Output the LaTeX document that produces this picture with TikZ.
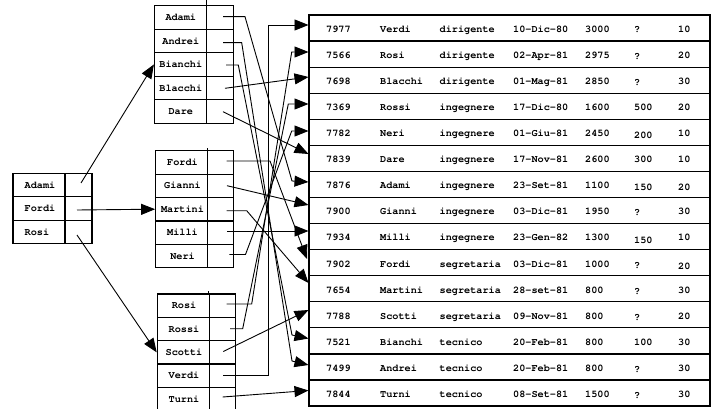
\documentclass[tikz,border=0pt]{standalone}
\usepackage{fontspec}
\setmainfont{TeX Gyre Cursor}
\usetikzlibrary{arrows.meta}
\newcommand\tabfnt{\fontsize{10.2pt}{12pt}\selectfont\bfseries}
\begin{document}
\begin{tikzpicture}[x=1pt,y=-1pt,
  tab/.style={draw, line width=1.2pt, inner sep=0pt},
  lbl/.style={inner sep=0pt, text height=6.2pt, text depth=0pt, font=\tabfnt},
  link/.style={line width=0.9pt, -{Triangle[length=14pt,width=11pt]}},
  ]
\useasboundingbox (0,0) rectangle (712,409);

% ---------- big table ----------
\foreach \i in {1,...,15}
  \node[tab, minimum width=401pt, minimum height=26.07pt] (R\i) at (509.5,{15+(\i-0.5)*26.07}) {};

\foreach \i/\a/\b/\c/\d/\e/\f/\g/\df/\dg in {
1/7977/Verdi/dirigente/10-Dic-80/3000/?/10/0.5/0,
2/7566/Rosi/dirigente/02-Apr-81/2975/?/20/0.5/0,
3/7698/Blacchi/dirigente/01-Mag-81/2850/?/30/0.5/0,
4/7369/Rossi/ingegnere/17-Dic-80/1600/500/20/0/0,
5/7782/Neri/ingegnere/01-Giu-81/2450/200/10/1.5/0,
6/7839/Dare/ingegnere/17-Nov-81/2600/300/10/0/0,
7/7876/Adami/ingegnere/23-Set-81/1100/150/20/1.5/2,
8/7900/Gianni/ingegnere/03-Dic-81/1950/?/30/1/0,
9/7934/Milli/ingegnere/23-Gen-82/1300/150/10/3/0,
10/7902/Fordi/segretaria/03-Dic-81/1000/?/20/1.5/2,
11/7654/Martini/segretaria/28-set-81/800/?/30/1.5/0,
12/7788/Scotti/segretaria/09-Nov-81/800/?/20/1.5/0,
13/7521/Bianchi/tecnico/20-Feb-81/800/100/30/0/0,
14/7499/Andrei/tecnico/20-Feb-81/800/?/30/1.5/0,
15/7844/Turni/tecnico/08-Set-81/1500/?/30/1.5/0}
{
  \pgfmathsetmacro\yc{15+(\i-0.5)*26.07+1.3}
  \node[lbl, anchor=west] (R\i-1) at (326,\yc) {\a};
  \node[lbl, anchor=west] (R\i-2) at (380,\yc) {\b};
  \node[lbl, anchor=west] (R\i-3) at (439.5,\yc) {\c};
  \node[lbl, anchor=west] (R\i-4) at (513,\yc) {\d};
  \node[lbl, anchor=west] (R\i-5) at (585,\yc) {\e};
  \node[lbl, anchor=west] (R\i-6) at (634,{\yc+\df}) {\f};
  \node[lbl, anchor=west] (R\i-7) at (678,{\yc+\dg}) {\g};
}

% ---------- table A ----------
\foreach \n [count=\i] in {Adami,Fordi,Rosi} {
  \pgfmathsetmacro\yc{173.3+(\i-0.5)*23.5}
  \node[tab, minimum width=52pt, minimum height=23.5pt] (A\i) at (39,\yc) {};
  \node[tab, minimum width=27pt, minimum height=23.5pt] (A\i p) at (78.5,\yc) {};
  \node[lbl, anchor=west] (A\i t) at (24.5,\yc) {\n};
}

% ---------- table B ----------
\foreach \n [count=\i] in {Adami,Andrei,Bianchi,Blacchi,Dare} {
  \pgfmathsetmacro\yc{5.7+(\i-0.5)*23.5}
  \node[tab, minimum width=52.2pt, minimum height=23.5pt] (B\i) at (180.6,\yc) {};
  \node[tab, minimum width=26.6pt, minimum height=23.5pt] (B\i p) at (220,\yc) {};
  \node[lbl] (B\i t) at (180.8,\yc) {\n};
}
\draw[line width=1.2pt] (B1p.north west) -- ++(0,-6);

% ---------- table C ----------
\foreach \n [count=\i] in {Fordi,Gianni,Martini,Milli,Neri} {
  \pgfmathsetmacro\yc{150.7+(\i-0.5)*23.4}
  \node[tab, minimum width=52pt, minimum height=23.4pt] (C\i) at (181.7,\yc) {};
  \node[tab, minimum width=25.6pt, minimum height=23.4pt] (C\i p) at (220.5,\yc) {};
  \node[lbl] (C\i t) at (182.5,\yc) {\n};
}
\draw[line width=1.2pt] (C1p.north west) -- ++(0,-2.5);

% ---------- table D ----------
\foreach \n [count=\i] in {Rosi,Rossi,Scotti,Verdi,Turni} {
  \pgfmathsetmacro\yc{294+(\i-0.5)*23.35}
  \node[tab, minimum width=52pt, minimum height=23.35pt] (D\i) at (183.3,\yc) {};
  \node[tab, minimum width=26pt, minimum height=23.35pt] (D\i p) at (222.3,\yc) {};
  \node[lbl] (D\i t) at (184,\yc) {\n};
}
\draw[line width=1.2pt] (D1p.north west) -- ++(0,-2.5);

% ---------- pointer starts ----------
\coordinate (sA1) at (81,183);
\coordinate (sA2) at (77,210);
\coordinate (sA3) at (77,235);
\coordinate (sB1) at (223,16.7);
\coordinate (sB2) at (223,42.7);
\coordinate (sB3) at (226,65);
\coordinate (sB4) at (225,88.3);
\coordinate (sB5) at (223,111.7);
\coordinate (sC1) at (226.7,161);
\coordinate (sC2) at (227,185.7);
\coordinate (sC3) at (226.7,210.7);
\coordinate (sC4) at (227,231);
\coordinate (sC5) at (229.3,254.5);
\coordinate (sD1) at (226.7,304);
\coordinate (sD2) at (230,328.7);
\coordinate (sD3) at (223.3,351.5);
\coordinate (sD4) at (223,375.5);
\coordinate (sD5) at (222.7,397);

% ---------- arrow tips on the big table ----------
\coordinate (t1) at (308.5,25);
\coordinate (t2) at (308.5,52);
\coordinate (t3) at (308.5,77);
\coordinate (t4) at (308.5,104);
\coordinate (t5) at (308.5,131);
\coordinate (t6) at (308.5,154);
\coordinate (t7) at (308.5,182);
\coordinate (t8) at (308.5,205);
\coordinate (t9) at (308.5,231);
\coordinate (t10) at (307,259);
\coordinate (t11) at (308.5,283);
\coordinate (t12) at (308.5,310);
\coordinate (t13) at (308.5,338.5);
\coordinate (t14) at (308.5,365);
\coordinate (t15) at (308.5,390.5);

% ---------- connectors ----------
\draw[link] (sA1) -- (B3.west);
\draw[link] (sA2) -- (C3.west);
\draw[link] (sA3) -- (D3.west);

\draw[link] (sB1) -- (245,16.7) -- (292,181) -- (t7);
\draw[link] (sB2) -- (241.7,42.7) -- (292,361) -- (t14);
\draw[link] (sB3) -- (238.3,65) -- (292,335) -- (t13);
\draw[link] (sB4) -- (t3);
\draw[link] (sB5) -- (t6);

\draw[link] (sC1) -- (270,161) -- (t10);
\draw[link] (sC2) -- (t8);
\draw[link] (sC3) -- (246.7,210.7) -- (t11);
\draw[link] (sC4) -- (t9);
\draw[link] (sC5) -- (245.5,254.5) -- (291.7,131) -- (t5);

\draw[link] (sD1) -- (251.7,304) -- (291.7,52) -- (t2);
\draw[link] (sD2) -- (242.7,328.7) -- (288.3,104) -- (t4);
\draw[link] (sD3) -- (t12);
\draw[link] (sD4) -- (268.5,375.5) -- (268.5,25) -- (t1);
\draw[link] (sD5) -- (t15);
\end{tikzpicture}
\end{document}
